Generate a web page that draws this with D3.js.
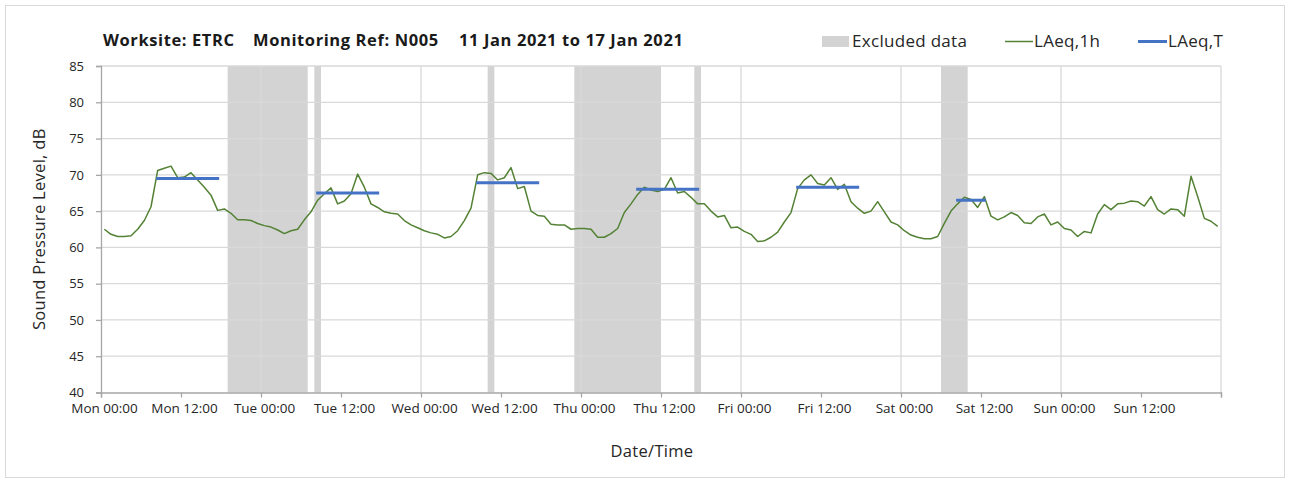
<!DOCTYPE html>
<html>
<head>
<meta charset="utf-8">
<script src="https://cdn.jsdelivr.net/npm/d3@7"></script>
<style>
  html, body { margin: 0; padding: 0; background: #ffffff; }
  svg { display: block; font-family: "Open Sans", Lato, "Noto Sans", sans-serif; }
</style>
</head>
<body>
<svg id="chart" width="1290" height="483"></svg>
<script>
// ---------------- data ----------------
const titleParts = ["Worksite: ETRC", "Monitoring Ref: N005", "11 Jan 2021 to 17 Jan 2021"];
const startTime = "2021-01-11T00:00:00";
const endTime = "2021-01-18T00:00:00";
const dayNames = ["Sun", "Mon", "Tue", "Wed", "Thu", "Fri", "Sat"];
const yTicks = [40, 45, 50, 55, 60, 65, 70, 75, 80, 85];

// hourly LAeq,1h values (one per hour, plotted at mid-hour)
const laeq1hMon = [62.5, 61.8, 61.5, 61.5, 61.6, 62.5, 63.7, 65.6, 70.6, 70.9, 71.2, 69.6, 69.7, 70.3, 69.3, 68.3, 67.2, 65.1, 65.3, 64.7, 63.8, 63.8, 63.7, 63.3];
const laeq1hTue = [63.0, 62.8, 62.4, 61.9, 62.3, 62.5, 63.8, 64.9, 66.5, 67.4, 68.2, 66.0, 66.4, 67.4, 70.1, 68.3, 66.0, 65.5, 64.9, 64.7, 64.6, 63.7, 63.1, 62.7];
const laeq1hWed = [62.3, 62.0, 61.8, 61.3, 61.5, 62.3, 63.7, 65.4, 70.0, 70.3, 70.2, 69.3, 69.6, 71.0, 68.1, 68.4, 65.0, 64.4, 64.3, 63.2, 63.1, 63.1, 62.5, 62.6];
const laeq1hThu = [62.6, 62.5, 61.4, 61.4, 61.9, 62.6, 64.8, 66.0, 67.3, 68.3, 67.9, 67.7, 68.0, 69.6, 67.5, 67.7, 66.9, 66.0, 66.0, 65.0, 64.2, 64.4, 62.7, 62.8];
const laeq1hFri = [62.2, 61.8, 60.8, 60.9, 61.4, 62.1, 63.5, 64.8, 68.1, 69.3, 70.0, 68.8, 68.6, 69.6, 68.0, 68.7, 66.3, 65.4, 64.7, 65.0, 66.3, 64.9, 63.5, 63.1];
const laeq1hSat = [62.3, 61.7, 61.4, 61.2, 61.2, 61.5, 63.3, 65.0, 66.0, 66.9, 66.6, 65.5, 67.0, 64.3, 63.8, 64.2, 64.8, 64.4, 63.4, 63.3, 64.2, 64.6, 63.1, 63.5];
const laeq1hSun = [62.6, 62.4, 61.5, 62.2, 62.0, 64.6, 65.9, 65.2, 66.0, 66.1, 66.4, 66.3, 65.7, 67.0, 65.2, 64.6, 65.3, 65.2, 64.3, 69.8, 67.0, 64.0, 63.6, 62.9];

// LAeq,T daytime period values
const laeqTStart = ["2021-01-11T08:30", "2021-01-12T08:30", "2021-01-13T08:30", "2021-01-14T08:30", "2021-01-15T08:30", "2021-01-16T08:30"];
const laeqTEnd   = ["2021-01-11T17:30", "2021-01-12T17:30", "2021-01-13T17:30", "2021-01-14T17:30", "2021-01-15T17:30", "2021-01-16T12:30"];
const laeqTValues = [69.5, 67.5, 68.9, 68.0, 68.3, 66.5];

// excluded data periods
const excludedStart = ["2021-01-11T19:00", "2021-01-12T08:00", "2021-01-13T10:00", "2021-01-13T23:00", "2021-01-14T17:00", "2021-01-16T06:00"];
const excludedEnd   = ["2021-01-12T07:00", "2021-01-12T09:00", "2021-01-13T11:00", "2021-01-14T12:00", "2021-01-14T18:00", "2021-01-16T10:00"];

// ---------------- build ----------------
const hourly = [].concat(laeq1hMon, laeq1hTue, laeq1hWed, laeq1hThu, laeq1hFri, laeq1hSat, laeq1hSun);
const t0 = new Date(startTime);
const HOUR = 3600 * 1000;
const series = hourly.map((v, i) => ({ t: new Date(t0.getTime() + (i + 0.5) * HOUR), v }));
const periods = laeqTValues.map((v, i) => ({ s: new Date(laeqTStart[i]), e: new Date(laeqTEnd[i]), v }));
const excluded = excludedStart.map((s, i) => ({ s: new Date(s), e: new Date(excludedEnd[i]) }));

const svg = d3.select("#chart");
const W = 1290, H = 483;
const m = { left: 101, right: 69, top: 66, bottom: 90.5 };
const iw = W - m.left - m.right, ih = H - m.top - m.bottom;

const txt = "#262626";
const gridC = "#d9d9d9";
const axisC = "#a6a6a6";
const greenC = "#548235";
const blueC = "#4472c4";
const exclC = "#d3d3d3";

// outer border
svg.append("rect").attr("x", 5.5).attr("y", 5.5).attr("width", W - 11).attr("height", H - 11)
  .attr("fill", "#fff").attr("stroke", "#d9d9d9").attr("stroke-width", 1);

const x = d3.scaleTime().domain([new Date(startTime), new Date(endTime)]).range([m.left, m.left + iw]);
const y = d3.scaleLinear().domain([40, 85]).range([m.top + ih, m.top]);

const g = svg.append("g");

// excluded bands
g.selectAll("rect.excl").data(excluded).join("rect").attr("class", "excl")
  .attr("x", d => x(d.s)).attr("width", d => x(d.e) - x(d.s))
  .attr("y", y(85)).attr("height", y(40) - y(85))
  .attr("fill", exclC);

// horizontal gridlines
g.selectAll("line.hg").data(yTicks.filter(v => v > 40)).join("line").attr("class", "hg")
  .attr("x1", m.left).attr("x2", m.left + iw)
  .attr("y1", d => y(d)).attr("y2", d => y(d))
  .attr("stroke", gridC).attr("stroke-width", 1.3);

// vertical gridlines at each day
const dayTicks = d3.timeDay.range(new Date(startTime), new Date(endTime)).slice(1);
g.selectAll("line.vg").data(dayTicks).join("line").attr("class", "vg")
  .attr("x1", d => x(d)).attr("x2", d => x(d))
  .attr("y1", y(85)).attr("y2", y(40))
  .attr("stroke", gridC).attr("stroke-width", 1.3);

// plot frame (right side)
g.append("line").attr("x1", m.left + iw).attr("x2", m.left + iw).attr("y1", y(85)).attr("y2", y(40))
  .attr("stroke", gridC).attr("stroke-width", 1.3);

// LAeq,1h line
const line = d3.line().x(d => x(d.t)).y(d => y(d.v));
g.append("path").datum(series).attr("d", line)
  .attr("fill", "none").attr("stroke", greenC).attr("stroke-width", 1.5).attr("stroke-linejoin", "round");

// LAeq,T segments
g.selectAll("line.lt").data(periods).join("line").attr("class", "lt")
  .attr("x1", d => x(d.s)).attr("x2", d => x(d.e))
  .attr("y1", d => y(d.v)).attr("y2", d => y(d.v))
  .attr("stroke", blueC).attr("stroke-width", 3).attr("stroke-linecap", "square");

// axes
const xTicks = d3.timeHour.every(12).range(new Date(startTime), new Date(new Date(endTime).getTime() + 1));
const fmt = d => dayNames[d.getDay()] + " " + d3.timeFormat("%H:%M")(d);
const xAxis = d3.axisBottom(x).tickValues(xTicks).tickSize(5).tickPadding(6)
  .tickFormat((d, i) => i === xTicks.length - 1 ? "" : fmt(d));
const xg = svg.append("g").attr("transform", `translate(0,${y(40)})`).call(xAxis);
xg.select(".domain").attr("stroke", axisC).attr("stroke-width", 1.3);
xg.selectAll(".tick line").attr("stroke", axisC).attr("stroke-width", 1.3);
xg.selectAll(".tick text").attr("fill", txt).attr("dx", 3).style("font-size", "13.5px").style("font-family", "'Open Sans', sans-serif");

const yAxis = d3.axisLeft(y).tickValues(yTicks).tickSize(5).tickPadding(12).tickFormat(d3.format("d"));
const yg = svg.append("g").attr("transform", `translate(${m.left},0)`).call(yAxis);
yg.select(".domain").attr("stroke", axisC).attr("stroke-width", 1.3);
yg.selectAll(".tick line").attr("stroke", axisC).attr("stroke-width", 1.3);
yg.selectAll(".tick text").attr("fill", txt).style("font-size", "13px").style("font-family", "'Open Sans', sans-serif");

// axis titles
svg.append("text").attr("transform", `translate(41,${(y(40) + y(85)) / 2}) rotate(-90)`)
  .attr("text-anchor", "middle").attr("dominant-baseline", "middle")
  .attr("fill", txt).style("font-size", "16.5px").style("letter-spacing", "0.3px").text("Sound Pressure Level, dB");
svg.append("text").attr("x", 652).attr("y", 457)
  .attr("text-anchor", "middle").attr("fill", txt).style("font-size", "16.5px").style("letter-spacing", "0.3px").text("Date/Time");

// title
const titleX = [103, 253, 459];
svg.selectAll("text.title").data(titleParts).join("text").attr("class", "title")
  .attr("x", (d, i) => titleX[i]).attr("y", 46)
  .attr("fill", "#1a1a1a").style("font-size", "16.5px").style("font-weight", "bold")
  .style("letter-spacing", "0.6px").text(d => d);

// legend
const lg = svg.append("g").style("font-size", "17px").style("letter-spacing", "0.3px");
lg.append("rect").attr("x", 822).attr("y", 36).attr("width", 27).attr("height", 11).attr("fill", exclC);
lg.append("text").attr("x", 852).attr("y", 47).attr("fill", txt).text("Excluded data");
lg.append("line").attr("x1", 1005).attr("x2", 1033).attr("y1", 41.5).attr("y2", 41.5)
  .attr("stroke", greenC).attr("stroke-width", 1.5);
lg.append("text").attr("x", 1034).attr("y", 47).attr("fill", txt).text("LAeq,1h");
lg.append("line").attr("x1", 1138).attr("x2", 1167).attr("y1", 41.5).attr("y2", 41.5)
  .attr("stroke", blueC).attr("stroke-width", 3);
lg.append("text").attr("x", 1168).attr("y", 47).attr("fill", txt).text("LAeq,T");
</script>
</body>
</html>
